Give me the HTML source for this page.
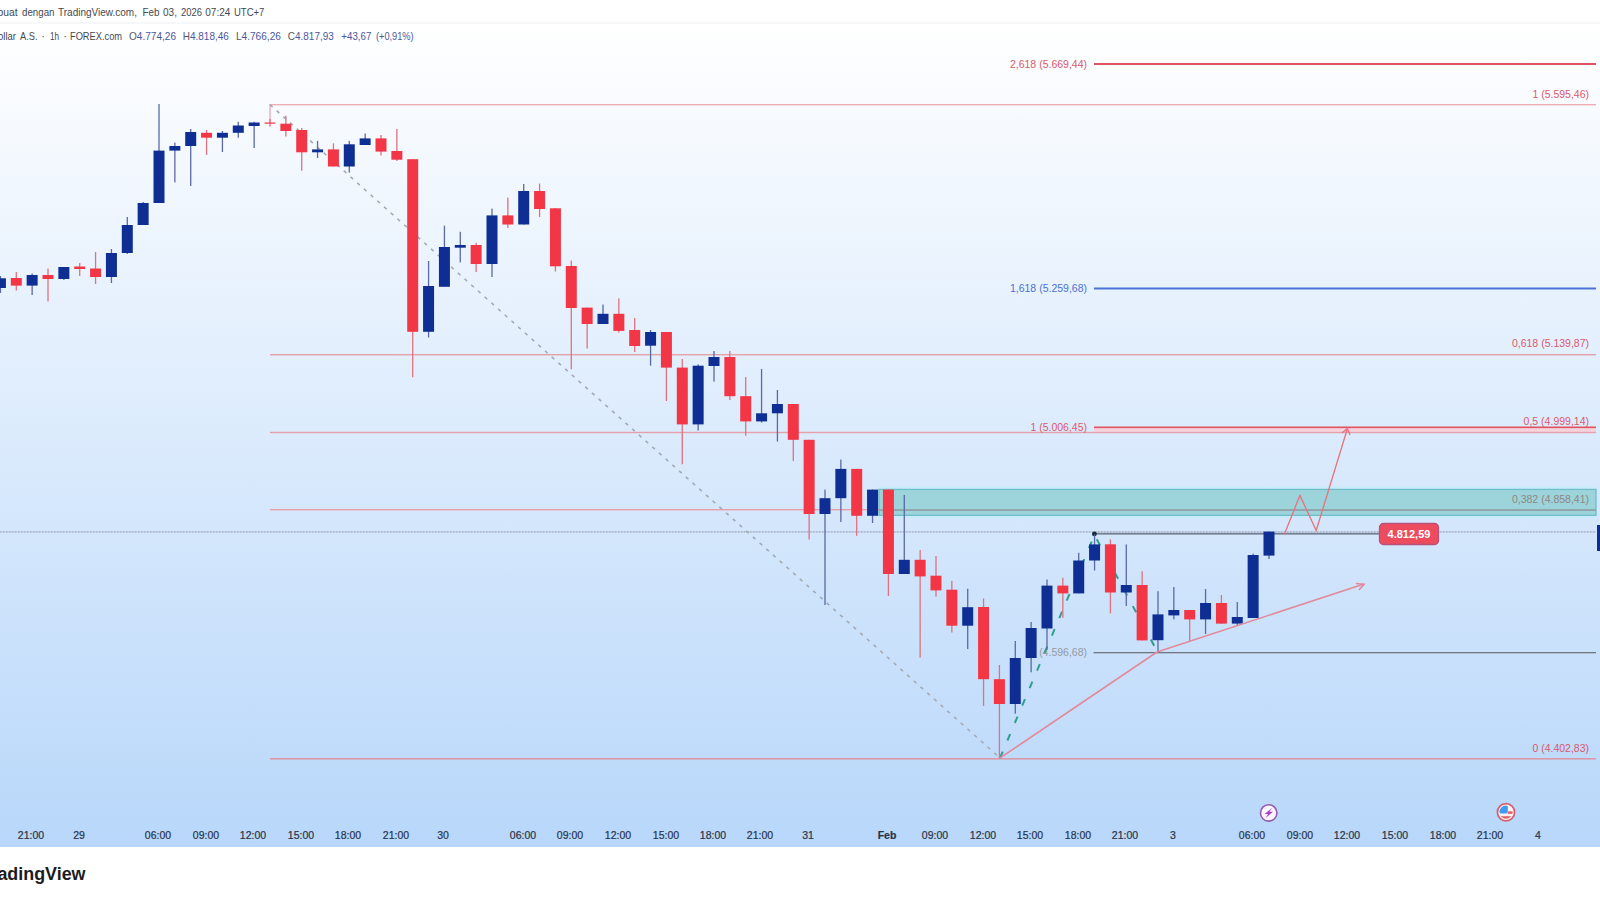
<!DOCTYPE html>
<html><head><meta charset="utf-8"><style>
html,body{margin:0;padding:0;background:#fff;}
body{width:1600px;height:900px;overflow:hidden;position:relative;font-family:"Liberation Sans",sans-serif;}
svg{position:absolute;left:0;top:0;}
</style></head><body>
<svg width="1600" height="900" viewBox="0 0 1600 900">
<defs>
<linearGradient id="bg" x1="0" y1="0" x2="0" y2="1">
<stop offset="0" stop-color="#ffffff"/>
<stop offset="1" stop-color="#b8d7fa"/>
</linearGradient>
</defs>
<rect x="0" y="0" width="1600" height="900" fill="#ffffff"/>
<rect x="0" y="24" width="1600" height="823" fill="url(#bg)"/>
<rect x="0" y="22.5" width="1600" height="1" fill="#eeeff2"/>
<!-- header -->
<g font-family="Liberation Sans, sans-serif" font-size="11" fill="#454950">
<text x="-12.3" y="15.9" textLength="29.9" lengthAdjust="spacingAndGlyphs">Dibuat</text>
<text x="22" y="15.9" textLength="32.5" lengthAdjust="spacingAndGlyphs">dengan</text>
<text x="58" y="15.9" textLength="79" lengthAdjust="spacingAndGlyphs">TradingView.com,</text>
<text x="142.5" y="15.9" textLength="17" lengthAdjust="spacingAndGlyphs">Feb</text>
<text x="163" y="15.9" textLength="14" lengthAdjust="spacingAndGlyphs">03,</text>
<text x="181" y="15.9" textLength="21" lengthAdjust="spacingAndGlyphs">2026</text>
<text x="205.3" y="15.9" textLength="25" lengthAdjust="spacingAndGlyphs">07:24</text>
<text x="234" y="15.9" textLength="30.4" lengthAdjust="spacingAndGlyphs">UTC+7</text>
</g>
<g font-family="Liberation Sans, sans-serif" font-size="11" fill="#454950">
<text x="-2" y="40" textLength="18" lengthAdjust="spacingAndGlyphs">ollar</text>
<text x="20" y="40" textLength="17.5" lengthAdjust="spacingAndGlyphs">A.S.</text>
<text x="43" y="40" text-anchor="middle">·</text>
<text x="50" y="40" textLength="9" lengthAdjust="spacingAndGlyphs">1h</text>
<text x="65" y="40" text-anchor="middle">·</text>
<text x="70" y="40" textLength="52" lengthAdjust="spacingAndGlyphs">FOREX.com</text>
</g>
<g font-family="Liberation Sans, sans-serif" font-size="11" fill="#4c56a0">
<text x="129" y="40" textLength="47" lengthAdjust="spacingAndGlyphs"><tspan fill="#555a64">O</tspan>4.774,26</text>
<text x="182.8" y="40" textLength="46" lengthAdjust="spacingAndGlyphs"><tspan fill="#555a64">H</tspan>4.818,46</text>
<text x="235.9" y="40" textLength="45" lengthAdjust="spacingAndGlyphs"><tspan fill="#555a64">L</tspan>4.766,26</text>
<text x="287.8" y="40" textLength="46" lengthAdjust="spacingAndGlyphs"><tspan fill="#555a64">C</tspan>4.817,93</text>
<text x="341.3" y="40" textLength="30" lengthAdjust="spacingAndGlyphs">+43,67</text>
<text x="376" y="40" textLength="37.6" lengthAdjust="spacingAndGlyphs">(+0,91%)</text>
</g>
<!-- fib lines -->
<rect x="1094" y="63" width="502" height="2" fill="#e25360"/>
<rect x="270" y="104" width="1326" height="1.4" fill="#eeb0b6"/>
<rect x="269.4" y="104" width="1.2" height="19" fill="#eaa0a8"/>
<rect x="1094" y="287.5" width="502" height="2" fill="#4a72d4"/>
<rect x="270" y="354" width="1326" height="1.4" fill="#e6a0a8"/>
<rect x="1094" y="426.5" width="502" height="2" fill="#e25360"/>
<rect x="1094" y="428.3" width="502" height="3.6" fill="#f6d2da"/>
<rect x="270" y="431.8" width="1326" height="1.4" fill="#e6a0a8"/>
<rect x="270" y="758" width="1326" height="1.6" fill="#da98a8"/>
<!-- rectangle zone -->
<rect x="879" y="486.6" width="717" height="2" fill="#c9eefa"/>
<rect x="879" y="516.2" width="717" height="1.8" fill="#c6ecfa"/>
<rect x="879" y="489.4" width="717" height="25.9" fill="#9dd3da" stroke="#6fbccb" stroke-width="1.3"/>
<rect x="270" y="509" width="609" height="1.4" fill="#e6a0a8"/>
<rect x="879" y="509.2" width="717" height="1.7" fill="#909ea6"/>
<!-- 0 line -->
<rect x="1093.5" y="652" width="502.5" height="1.3" fill="#707680"/>
<!-- current price dotted line -->
<rect x="0" y="531.2" width="1596" height="1.4" fill="#c0d0e6"/>
<line x1="0" y1="531.9" x2="1596" y2="531.9" stroke="#a6b3c6" stroke-width="1.2" stroke-dasharray="1.5 1.5"/>
<!-- horizontal ray -->
<rect x="1094.5" y="532.9" width="285" height="1.7" fill="#737e90"/>
<circle cx="1094.4" cy="533.9" r="2.4" fill="#182a3c"/>
<!-- trend dashed gray -->
<line x1="270" y1="104.7" x2="1000" y2="758" stroke="#a4aab4" stroke-width="1.6" stroke-dasharray="3.5 5.5"/>
<text x="1087" y="656" text-anchor="end" font-family="Liberation Sans, sans-serif" font-size="10.5" fill="#959aa3">(4.596,68)</text>
<polyline points="1000,758 1094.5,535 1157,651" fill="none" stroke="#2f9e8e" stroke-width="2" stroke-dasharray="7 12"/>
<!-- candles -->
<rect x="-0.22" y="276.0" width="1.3" height="17.0" fill="#5a6aa6"/><rect x="-5.07" y="278.3" width="11.0" height="9.7" fill="#0f2e94"/>
<rect x="15.64" y="272.0" width="1.3" height="18.5" fill="#e0717f"/><rect x="10.79" y="278.0" width="11.0" height="7.6" fill="#f23645"/>
<rect x="31.49" y="273.4" width="1.3" height="21.6" fill="#5a6aa6"/><rect x="26.64" y="275.0" width="11.0" height="10.6" fill="#0f2e94"/>
<rect x="47.35" y="268.5" width="1.3" height="33.0" fill="#e0717f"/><rect x="42.50" y="275.0" width="11.0" height="4.0" fill="#f23645"/>
<rect x="63.21" y="267.0" width="1.3" height="13.0" fill="#5a6aa6"/><rect x="58.36" y="267.0" width="11.0" height="12.0" fill="#0f2e94"/>
<rect x="79.06" y="263.0" width="1.3" height="13.0" fill="#e0717f"/><rect x="74.22" y="266.5" width="11.0" height="2.5" fill="#f23645"/>
<rect x="94.92" y="252.0" width="1.3" height="32.0" fill="#e0717f"/><rect x="90.07" y="268.5" width="11.0" height="8.5" fill="#f23645"/>
<rect x="110.78" y="249.0" width="1.3" height="34.0" fill="#5a6aa6"/><rect x="105.93" y="253.0" width="11.0" height="24.0" fill="#0f2e94"/>
<rect x="126.64" y="217.0" width="1.3" height="37.0" fill="#5a6aa6"/><rect x="121.79" y="225.0" width="11.0" height="28.0" fill="#0f2e94"/>
<rect x="142.49" y="202.0" width="1.3" height="23.0" fill="#5a6aa6"/><rect x="137.64" y="203.0" width="11.0" height="22.0" fill="#0f2e94"/>
<rect x="158.35" y="104.0" width="1.3" height="99.0" fill="#5a6aa6"/><rect x="153.50" y="150.6" width="11.0" height="52.4" fill="#0f2e94"/>
<rect x="174.21" y="142.6" width="1.3" height="39.8" fill="#5a6aa6"/><rect x="169.36" y="146.0" width="11.0" height="4.6" fill="#0f2e94"/>
<rect x="190.06" y="129.0" width="1.3" height="57.0" fill="#5a6aa6"/><rect x="185.21" y="132.0" width="11.0" height="14.0" fill="#0f2e94"/>
<rect x="205.92" y="130.0" width="1.3" height="25.0" fill="#e0717f"/><rect x="201.07" y="132.8" width="11.0" height="4.9" fill="#f23645"/>
<rect x="221.78" y="131.0" width="1.3" height="21.0" fill="#5a6aa6"/><rect x="216.93" y="132.8" width="11.0" height="4.9" fill="#0f2e94"/>
<rect x="237.63" y="121.8" width="1.3" height="15.9" fill="#5a6aa6"/><rect x="232.78" y="125.5" width="11.0" height="7.3" fill="#0f2e94"/>
<rect x="253.49" y="121.8" width="1.3" height="26.2" fill="#5a6aa6"/><rect x="248.64" y="122.5" width="11.0" height="3.5" fill="#0f2e94"/>
<rect x="269.35" y="119.0" width="1.3" height="7.7" fill="#e0717f"/><rect x="264.50" y="122.5" width="11.0" height="1.2" fill="#f23645"/>
<rect x="285.21" y="115.7" width="1.3" height="20.8" fill="#e0717f"/><rect x="280.36" y="123.7" width="11.0" height="7.3" fill="#f23645"/>
<rect x="301.06" y="128.0" width="1.3" height="42.7" fill="#e0717f"/><rect x="296.21" y="130.0" width="11.0" height="22.3" fill="#f23645"/>
<rect x="316.92" y="140.9" width="1.3" height="17.1" fill="#5a6aa6"/><rect x="312.07" y="149.4" width="11.0" height="2.9" fill="#0f2e94"/>
<rect x="332.78" y="143.3" width="1.3" height="23.2" fill="#e0717f"/><rect x="327.93" y="149.4" width="11.0" height="17.1" fill="#f23645"/>
<rect x="348.63" y="140.9" width="1.3" height="31.7" fill="#5a6aa6"/><rect x="343.78" y="144.3" width="11.0" height="22.2" fill="#0f2e94"/>
<rect x="364.49" y="133.5" width="1.3" height="11.5" fill="#5a6aa6"/><rect x="359.64" y="138.4" width="11.0" height="6.6" fill="#0f2e94"/>
<rect x="380.35" y="135.0" width="1.3" height="20.5" fill="#e0717f"/><rect x="375.50" y="138.4" width="11.0" height="13.2" fill="#f23645"/>
<rect x="396.21" y="129.0" width="1.3" height="32.0" fill="#e0717f"/><rect x="391.36" y="151.0" width="11.0" height="8.7" fill="#f23645"/>
<rect x="412.06" y="159.2" width="1.3" height="218.1" fill="#e0717f"/><rect x="407.21" y="159.2" width="11.0" height="172.6" fill="#f23645"/>
<rect x="427.92" y="261.0" width="1.3" height="76.5" fill="#5a6aa6"/><rect x="423.07" y="286.0" width="11.0" height="45.8" fill="#0f2e94"/>
<rect x="443.78" y="225.7" width="1.3" height="61.1" fill="#5a6aa6"/><rect x="438.93" y="247.0" width="11.0" height="39.8" fill="#0f2e94"/>
<rect x="459.63" y="231.8" width="1.3" height="30.6" fill="#5a6aa6"/><rect x="454.78" y="245.0" width="11.0" height="2.7" fill="#0f2e94"/>
<rect x="475.49" y="242.8" width="1.3" height="29.2" fill="#e0717f"/><rect x="470.64" y="245.0" width="11.0" height="19.0" fill="#f23645"/>
<rect x="491.35" y="208.6" width="1.3" height="68.4" fill="#5a6aa6"/><rect x="486.50" y="215.4" width="11.0" height="48.6" fill="#0f2e94"/>
<rect x="507.20" y="197.6" width="1.3" height="30.4" fill="#e0717f"/><rect x="502.35" y="215.4" width="11.0" height="9.1" fill="#f23645"/>
<rect x="523.06" y="184.0" width="1.3" height="40.5" fill="#5a6aa6"/><rect x="518.21" y="191.0" width="11.0" height="33.5" fill="#0f2e94"/>
<rect x="538.92" y="183.6" width="1.3" height="33.4" fill="#e0717f"/><rect x="534.07" y="191.0" width="11.0" height="18.0" fill="#f23645"/>
<rect x="554.77" y="208.0" width="1.3" height="63.5" fill="#e0717f"/><rect x="549.92" y="208.3" width="11.0" height="58.0" fill="#f23645"/>
<rect x="570.63" y="260.5" width="1.3" height="108.8" fill="#e0717f"/><rect x="565.78" y="266.0" width="11.0" height="42.0" fill="#f23645"/>
<rect x="586.49" y="307.6" width="1.3" height="40.9" fill="#e0717f"/><rect x="581.64" y="307.6" width="11.0" height="16.4" fill="#f23645"/>
<rect x="602.35" y="304.5" width="1.3" height="19.5" fill="#5a6aa6"/><rect x="597.50" y="313.8" width="11.0" height="10.2" fill="#0f2e94"/>
<rect x="618.20" y="298.4" width="1.3" height="34.2" fill="#e0717f"/><rect x="613.35" y="313.8" width="11.0" height="17.1" fill="#f23645"/>
<rect x="634.06" y="318.0" width="1.3" height="34.0" fill="#e0717f"/><rect x="629.21" y="330.0" width="11.0" height="16.0" fill="#f23645"/>
<rect x="649.92" y="330.0" width="1.3" height="35.7" fill="#5a6aa6"/><rect x="645.07" y="332.0" width="11.0" height="13.7" fill="#0f2e94"/>
<rect x="665.77" y="332.0" width="1.3" height="69.0" fill="#e0717f"/><rect x="660.92" y="332.0" width="11.0" height="35.6" fill="#f23645"/>
<rect x="681.63" y="359.0" width="1.3" height="105.2" fill="#e0717f"/><rect x="676.78" y="367.6" width="11.0" height="56.8" fill="#f23645"/>
<rect x="697.49" y="364.4" width="1.3" height="66.1" fill="#5a6aa6"/><rect x="692.64" y="365.7" width="11.0" height="58.7" fill="#0f2e94"/>
<rect x="713.35" y="351.0" width="1.3" height="30.6" fill="#5a6aa6"/><rect x="708.50" y="357.0" width="11.0" height="9.0" fill="#0f2e94"/>
<rect x="729.20" y="351.0" width="1.3" height="49.0" fill="#e0717f"/><rect x="724.35" y="357.0" width="11.0" height="39.2" fill="#f23645"/>
<rect x="745.06" y="377.0" width="1.3" height="58.8" fill="#e0717f"/><rect x="740.21" y="396.2" width="11.0" height="25.2" fill="#f23645"/>
<rect x="760.92" y="368.9" width="1.3" height="53.7" fill="#5a6aa6"/><rect x="756.07" y="413.3" width="11.0" height="8.1" fill="#0f2e94"/>
<rect x="776.77" y="390.0" width="1.3" height="51.5" fill="#5a6aa6"/><rect x="771.92" y="404.0" width="11.0" height="9.3" fill="#0f2e94"/>
<rect x="792.63" y="404.0" width="1.3" height="57.0" fill="#e0717f"/><rect x="787.78" y="404.0" width="11.0" height="35.8" fill="#f23645"/>
<rect x="808.49" y="439.8" width="1.3" height="99.7" fill="#e0717f"/><rect x="803.64" y="439.8" width="11.0" height="74.2" fill="#f23645"/>
<rect x="824.34" y="489.6" width="1.3" height="115.4" fill="#5a6aa6"/><rect x="819.49" y="498.2" width="11.0" height="15.8" fill="#0f2e94"/>
<rect x="840.20" y="459.6" width="1.3" height="62.4" fill="#5a6aa6"/><rect x="835.35" y="468.9" width="11.0" height="29.3" fill="#0f2e94"/>
<rect x="856.06" y="468.9" width="1.3" height="66.9" fill="#e0717f"/><rect x="851.21" y="468.9" width="11.0" height="46.9" fill="#f23645"/>
<rect x="871.91" y="489.6" width="1.3" height="33.4" fill="#5a6aa6"/><rect x="867.06" y="489.6" width="11.0" height="26.2" fill="#0f2e94"/>
<rect x="887.77" y="489.6" width="1.3" height="106.4" fill="#e0717f"/><rect x="882.92" y="489.6" width="11.0" height="84.4" fill="#f23645"/>
<rect x="903.63" y="495.0" width="1.3" height="79.0" fill="#5a6aa6"/><rect x="898.78" y="559.8" width="11.0" height="14.2" fill="#0f2e94"/>
<rect x="919.49" y="550.0" width="1.3" height="107.6" fill="#e0717f"/><rect x="914.64" y="559.8" width="11.0" height="16.6" fill="#f23645"/>
<rect x="935.34" y="556.0" width="1.3" height="40.5" fill="#e0717f"/><rect x="930.49" y="575.7" width="11.0" height="14.7" fill="#f23645"/>
<rect x="951.20" y="580.8" width="1.3" height="51.7" fill="#e0717f"/><rect x="946.35" y="589.7" width="11.0" height="36.0" fill="#f23645"/>
<rect x="967.06" y="588.7" width="1.3" height="60.3" fill="#5a6aa6"/><rect x="962.21" y="607.2" width="11.0" height="18.5" fill="#0f2e94"/>
<rect x="982.91" y="598.5" width="1.3" height="107.5" fill="#e0717f"/><rect x="978.06" y="607.0" width="11.0" height="72.2" fill="#f23645"/>
<rect x="998.77" y="665.0" width="1.3" height="93.4" fill="#e0717f"/><rect x="993.92" y="679.2" width="11.0" height="24.8" fill="#f23645"/>
<rect x="1014.63" y="641.0" width="1.3" height="72.7" fill="#5a6aa6"/><rect x="1009.78" y="658.0" width="11.0" height="46.0" fill="#0f2e94"/>
<rect x="1030.48" y="622.0" width="1.3" height="50.3" fill="#5a6aa6"/><rect x="1025.63" y="628.0" width="11.0" height="30.0" fill="#0f2e94"/>
<rect x="1046.34" y="579.5" width="1.3" height="70.3" fill="#5a6aa6"/><rect x="1041.49" y="585.6" width="11.0" height="42.9" fill="#0f2e94"/>
<rect x="1062.20" y="577.8" width="1.3" height="40.0" fill="#e0717f"/><rect x="1057.35" y="585.6" width="11.0" height="7.8" fill="#f23645"/>
<rect x="1078.06" y="552.8" width="1.3" height="40.6" fill="#5a6aa6"/><rect x="1073.21" y="560.5" width="11.0" height="32.9" fill="#0f2e94"/>
<rect x="1093.91" y="534.5" width="1.3" height="36.0" fill="#5a6aa6"/><rect x="1089.06" y="544.4" width="11.0" height="16.1" fill="#0f2e94"/>
<rect x="1109.77" y="539.4" width="1.3" height="74.1" fill="#e0717f"/><rect x="1104.92" y="544.3" width="11.0" height="48.2" fill="#f23645"/>
<rect x="1125.63" y="544.5" width="1.3" height="61.5" fill="#5a6aa6"/><rect x="1120.78" y="585.0" width="11.0" height="7.5" fill="#0f2e94"/>
<rect x="1141.48" y="571.2" width="1.3" height="69.2" fill="#e0717f"/><rect x="1136.63" y="585.0" width="11.0" height="55.4" fill="#f23645"/>
<rect x="1157.34" y="591.2" width="1.3" height="61.3" fill="#5a6aa6"/><rect x="1152.49" y="614.4" width="11.0" height="25.8" fill="#0f2e94"/>
<rect x="1173.20" y="587.0" width="1.3" height="32.4" fill="#5a6aa6"/><rect x="1168.35" y="610.0" width="11.0" height="5.4" fill="#0f2e94"/>
<rect x="1189.05" y="610.0" width="1.3" height="31.0" fill="#e0717f"/><rect x="1184.20" y="610.0" width="11.0" height="9.4" fill="#f23645"/>
<rect x="1204.91" y="589.0" width="1.3" height="45.0" fill="#5a6aa6"/><rect x="1200.06" y="603.0" width="11.0" height="16.4" fill="#0f2e94"/>
<rect x="1220.77" y="595.0" width="1.3" height="28.6" fill="#e0717f"/><rect x="1215.92" y="603.0" width="11.0" height="20.6" fill="#f23645"/>
<rect x="1236.63" y="602.0" width="1.3" height="24.0" fill="#5a6aa6"/><rect x="1231.78" y="617.0" width="11.0" height="6.6" fill="#0f2e94"/>
<rect x="1252.48" y="553.6" width="1.3" height="64.4" fill="#5a6aa6"/><rect x="1247.63" y="555.0" width="11.0" height="63.0" fill="#0f2e94"/>
<rect x="1268.34" y="531.6" width="1.3" height="27.4" fill="#5a6aa6"/><rect x="1263.49" y="531.6" width="11.0" height="24.0" fill="#0f2e94"/>
<!-- red trend lines -->
<line x1="1000" y1="758" x2="1157" y2="652" stroke="#e3899a" stroke-width="1.6"/>
<line x1="1157" y1="652" x2="1364" y2="584" stroke="#e3899a" stroke-width="1.6"/>
<path d="M1356,583.5 L1364,584.3 L1359,590" fill="none" stroke="#e3899a" stroke-width="1.6"/>
<!-- zigzag -->
<polyline points="1284.3,534.4 1299.9,495.5 1316.2,530.5 1347.3,429" fill="none" stroke="#e9717c" stroke-width="1.3"/>
<path d="M1342,433 L1347.3,428.5 L1350,435" fill="none" stroke="#e9717c" stroke-width="1.3"/>
<!-- labels -->
<g font-family="Liberation Sans, sans-serif" font-size="10.5" fill="#da5a6a">
<text x="1087" y="67.5" text-anchor="end">2,618 (5.669,44)</text>
<text x="1589" y="97.5" text-anchor="end">1 (5.595,46)</text>
<text x="1087" y="292" text-anchor="end" fill="#4a72d4">1,618 (5.259,68)</text>
<text x="1589" y="347" text-anchor="end">0,618 (5.139,87)</text>
<text x="1087" y="431" text-anchor="end">1 (5.006,45)</text>
<text x="1589" y="425" text-anchor="end">0,5 (4.999,14)</text>
<text x="1589" y="502.5" text-anchor="end" fill="#8e8884">0,382 (4.858,41)</text>
<text x="1589" y="752" text-anchor="end">0 (4.402,83)</text>
</g>
<!-- price label -->
<rect x="1379.5" y="523.5" width="59" height="21" rx="4" fill="#ec4c5e" stroke="#b9507a" stroke-width="1.3"/>
<text x="1409" y="538" text-anchor="middle" font-family="Liberation Sans, sans-serif" font-size="11" font-weight="bold" fill="#ffffff">4.812,59</text>
<rect x="1597" y="525" width="3" height="26" fill="#0f2e94"/>
<!-- time axis -->
<g font-family="Liberation Sans, sans-serif" font-size="10.5" fill="#2a3348" stroke="#2a3348" stroke-width="0.2">
<text x="31" y="839" text-anchor="middle">21:00</text>
<text x="79" y="839" text-anchor="middle">29</text>
<text x="158" y="839" text-anchor="middle">06:00</text>
<text x="206" y="839" text-anchor="middle">09:00</text>
<text x="253" y="839" text-anchor="middle">12:00</text>
<text x="301" y="839" text-anchor="middle">15:00</text>
<text x="348" y="839" text-anchor="middle">18:00</text>
<text x="396" y="839" text-anchor="middle">21:00</text>
<text x="443" y="839" text-anchor="middle">30</text>
<text x="523" y="839" text-anchor="middle">06:00</text>
<text x="570" y="839" text-anchor="middle">09:00</text>
<text x="618" y="839" text-anchor="middle">12:00</text>
<text x="666" y="839" text-anchor="middle">15:00</text>
<text x="713" y="839" text-anchor="middle">18:00</text>
<text x="760" y="839" text-anchor="middle">21:00</text>
<text x="808" y="839" text-anchor="middle">31</text>
<text x="887" y="839" text-anchor="middle" font-weight="bold">Feb</text>
<text x="935" y="839" text-anchor="middle">09:00</text>
<text x="983" y="839" text-anchor="middle">12:00</text>
<text x="1030" y="839" text-anchor="middle">15:00</text>
<text x="1078" y="839" text-anchor="middle">18:00</text>
<text x="1125" y="839" text-anchor="middle">21:00</text>
<text x="1173" y="839" text-anchor="middle">3</text>
<text x="1252" y="839" text-anchor="middle">06:00</text>
<text x="1300" y="839" text-anchor="middle">09:00</text>
<text x="1347" y="839" text-anchor="middle">12:00</text>
<text x="1395" y="839" text-anchor="middle">15:00</text>
<text x="1443" y="839" text-anchor="middle">18:00</text>
<text x="1490" y="839" text-anchor="middle">21:00</text>
<text x="1538" y="839" text-anchor="middle">4</text>
</g>
<!-- icons -->
<defs><clipPath id="fc"><circle cx="1506" cy="812.2" r="6.6"/></clipPath></defs>
<circle cx="1268.7" cy="812.9" r="8.2" fill="#fdf4ff" stroke="#915cae" stroke-width="1.6"/>
<path d="M1272.2,807.8 L1264.6,813.9 L1268.1,813.9 L1265.4,818.2 L1273,811.7 L1269.4,811.7 Z" fill="#a443c0"/>
<circle cx="1506" cy="812.2" r="8.6" fill="#fff0f2" stroke="#d2606e" stroke-width="1.7"/>
<g clip-path="url(#fc)">
<rect x="1499" y="805" width="8.8" height="8.6" rx="2" fill="#3f9bee"/>
<rect x="1507.8" y="811.4" width="7" height="2.4" fill="#df5866"/>
<rect x="1498" y="816.2" width="16" height="2.8" fill="#e0606c"/>
</g>
<!-- bottom logo -->
<text x="-19.5" y="880" textLength="105" lengthAdjust="spacingAndGlyphs" font-family="Liberation Sans, sans-serif" font-size="18" font-weight="bold" fill="#1c1c1e">TradingView</text>
</svg>
</body></html>
